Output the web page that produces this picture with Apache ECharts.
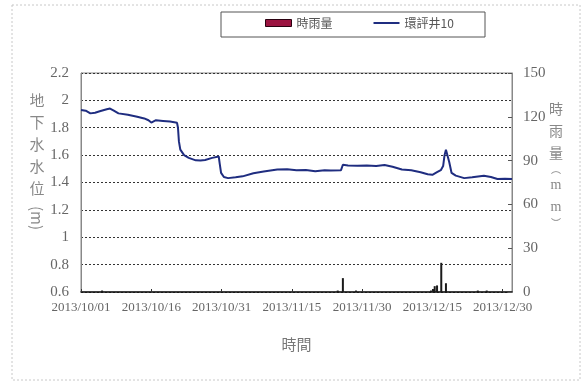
<!DOCTYPE html>
<html>
<head>
<meta charset="utf-8">
<script src="https://cdn.jsdelivr.net/npm/echarts@6/dist/echarts.min.js"></script>
<style>
  html, body { margin: 0; padding: 0; background: #fff; }
  #chart { width: 582px; height: 383px; }
</style>
</head>
<body>
<div id="chart"></div>
<script>
// x is days since 2013/10/01
var dateLabels = ['2013/10/01', '2013/10/16', '2013/10/31', '2013/11/15', '2013/11/30', '2013/12/15', '2013/12/30'];

// 環評井10 water level (m)
var levelDays = [0, 1, 2, 3, 4, 5.5, 6.2, 7, 8, 10, 12, 13.5, 14.4, 15, 16, 17.5, 19, 20.5, 20.7, 20.9,
    21.2, 22, 23, 24.5, 25.5, 26.5, 28, 29.4, 29.6, 29.9, 30.5, 31.4, 33, 34.5, 36.8, 39, 41.9, 44, 46, 48,
    50, 52, 53.3, 55.5, 55.9, 57, 59, 61, 63, 64.8, 66.5, 68.5, 70.5, 72.5, 74, 75, 76, 76.8, 77.3, 77.6,
    77.9, 78.2, 78.6, 79.1, 80, 81.8, 83.5, 86, 87.5, 88.9, 90.5, 92];
var levelValues = [1.93, 1.925, 1.905, 1.91, 1.92, 1.935, 1.94, 1.925, 1.905, 1.895, 1.88, 1.868, 1.855, 1.838, 1.855, 1.85, 1.845, 1.836, 1.80, 1.70,
    1.64, 1.60, 1.58, 1.562, 1.56, 1.565, 1.58, 1.59, 1.54, 1.47, 1.44, 1.432, 1.438, 1.445, 1.468, 1.48, 1.495, 1.497, 1.49, 1.492,
    1.483, 1.49, 1.488, 1.49, 1.53, 1.525, 1.522, 1.525, 1.52, 1.528, 1.515, 1.495, 1.49, 1.475, 1.46, 1.456, 1.475, 1.49, 1.52, 1.60,
    1.64, 1.63, 1.55, 1.47, 1.45, 1.432, 1.438, 1.449, 1.44, 1.425, 1.428, 1.425];

// 時雨量 hourly rainfall (mm)
var rainDays = [4.5, 54.8, 55.9, 58.7, 74.7, 75.2, 75.5, 76.0, 76.9, 77.9, 84.7, 86.6];
var rainMm = [1, 1, 9.5, 1, 1, 2, 4, 4.5, 20, 6, 1, 1];

var chart = echarts.init(document.getElementById('chart'));
var serif = 'Liberation Serif';
var cjk = 'Noto Sans CJK TC';

chart.setOption({
    animation: false,
    backgroundColor: '#fff',
    graphic: [
        { type: 'rect', shape: { x: 12, y: 5, width: 568, height: 375 },
          style: { fill: 'none', stroke: '#c8c8c8', lineWidth: 1, lineDash: [2, 2] }, z: -1 },
        { type: 'rect', shape: { x: 221, y: 12, width: 264, height: 25 },
          style: { fill: 'none', stroke: '#555', lineWidth: 1 } },
        { type: 'text', x: 37, y: 144,
          style: { text: '地\n下\n水\n水\n位', font: '15px ' + cjk, fill: '#888', align: 'center', verticalAlign: 'middle', lineHeight: 22 } },
        { type: 'text', x: 37, y: 218, rotation: -Math.PI / 2,
          style: { text: '(m)', font: '15px ' + cjk, fill: '#888', align: 'center', verticalAlign: 'middle' } },
        { type: 'text', x: 556, y: 163,
          style: {
              text: '{c|時}\n{c|雨}\n{c|量}\n{p|︵}\n{m|m}\n{m|m}\n{p|︶}',
              align: 'center', verticalAlign: 'middle', fill: '#888',
              rich: {
                  c: { font: '14px ' + cjk, lineHeight: 22, fill: '#888' },
                  p: { font: '10px ' + cjk, lineHeight: 10, fill: '#888' },
                  m: { font: '14px ' + serif, lineHeight: 22, fill: '#888' }
              }
          } }
    ],
    legend: {
        left: 265,
        top: 17,
        padding: 0,
        itemWidth: 26,
        itemHeight: 7,
        itemGap: 40,
        textStyle: { fontFamily: cjk, fontSize: 12, color: '#555' },
        data: [
            { name: '時雨量', icon: 'rect', itemStyle: { color: '#9b1340', borderColor: '#2a0010', borderWidth: 1 } },
            { name: '環評井10', itemStyle: { opacity: 0 }, lineStyle: { color: '#1f2d80', width: 2, opacity: 1 } }
        ]
    },
    grid: {
        left: 81, right: 70, top: 73, bottom: 91,
        show: true, borderColor: '#888', borderWidth: 1
    },
    xAxis: {
        type: 'value',
        min: 0,
        max: 92,
        interval: 15,
        name: '時間',
        nameLocation: 'middle',
        nameGap: 45,
        nameTextStyle: { fontFamily: cjk, fontSize: 15, color: '#777' },
        axisLine: { lineStyle: { color: '#111', width: 1.5 } },
        axisTick: { inside: true, length: 3, lineStyle: { color: '#333' } },
        axisLabel: {
            fontFamily: serif, fontSize: 13, color: '#666', margin: 9,
            showMaxLabel: false,
            formatter: function (v) { return v % 15 === 0 ? dateLabels[v / 15] : ''; }
        },
        splitLine: { show: false }
    },
    yAxis: [
        {
            type: 'value',
            min: 0.6,
            max: 2.2,
            interval: 0.2,
            axisLine: { show: true, lineStyle: { color: '#888' } },
            axisTick: { show: false },
            axisLabel: { fontFamily: serif, fontSize: 15, color: '#666', margin: 12 },
            splitLine: { lineStyle: { color: '#333', type: [2, 2] } }
        },
        {
            type: 'value',
            min: 0,
            max: 150,
            interval: 30,
            position: 'right',
            axisLine: { show: true, lineStyle: { color: '#888' } },
            axisTick: { show: true, inside: true, length: 4, lineStyle: { color: '#555' } },
            axisLabel: { fontFamily: serif, fontSize: 15, color: '#666', margin: 11 },
            splitLine: { show: false }
        }
    ],
    series: [
        {
            name: '時雨量',
            type: 'bar',
            yAxisIndex: 1,
            barWidth: 2,
            itemStyle: { color: '#1a1a1a' },
            data: rainDays.map(function (d, i) { return [d, rainMm[i]]; })
        },
        {
            name: '環評井10',
            type: 'line',
            yAxisIndex: 0,
            symbol: 'none',
            lineStyle: { color: '#1f2d80', width: 2 },
            itemStyle: { color: '#1f2d80' },
            data: levelDays.map(function (d, i) { return [d, levelValues[i]]; })
        }
    ]
});
</script>
</body>
</html>
